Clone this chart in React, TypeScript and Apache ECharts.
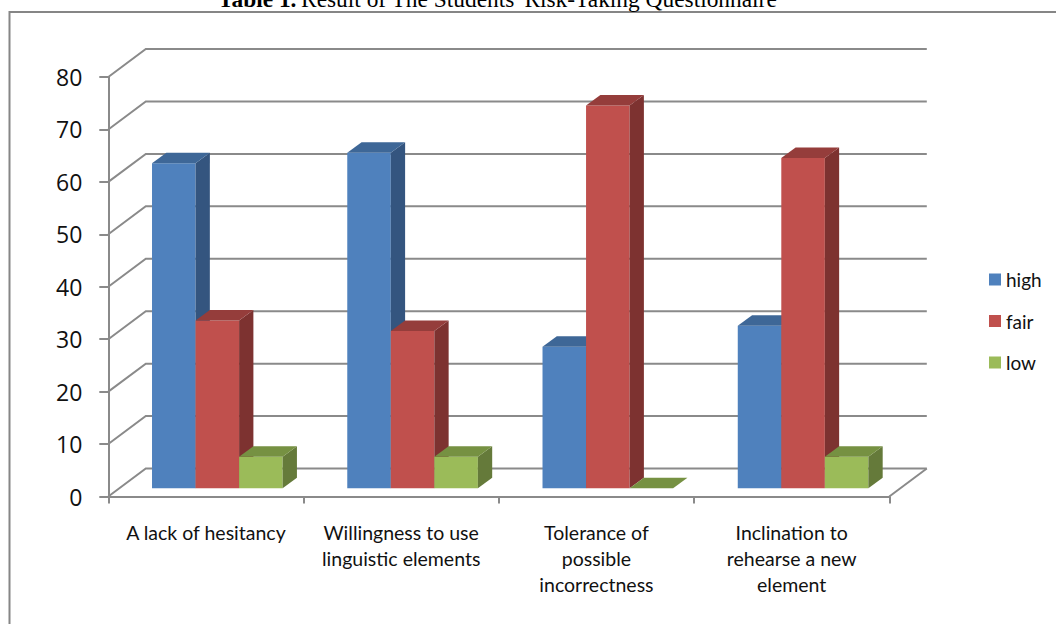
import React, { useEffect, useRef } from "react";
import * as echarts from "echarts";

const categories = [
  "A lack of hesitancy",
  "Willingness to use\nlinguistic elements",
  "Tolerance of\npossible\nincorrectness",
  "Inclination to\nrehearse a new\nelement",
];
const highValues = [62, 64, 27, 31];
const fairValues = [32, 30, 73, 63];
const lowValues = [6, 6, 0, 6];
const gridTicks = [0, 10, 20, 30, 40, 50, 60, 70, 80];

const WALL_DX = 37.5;
const WALL_DY = 28;
const BAR_DX = 14.3;
const BAR_DY = 10.5;
const FRONT_DX = 11.4;
const FRONT_DY = 8.2;
const BAR_FRACTION = 0.223;
const GRID_COLOR = "#8a8a8a";

function gridRender(params: any, api: any) {
  const value = api.value(1);
  const p = api.coord([0, value]);
  const cs = params.coordSys;
  const x0 = cs.x;
  const x1 = cs.x + cs.width;
  const y = p[1];
  const style = { stroke: GRID_COLOR, lineWidth: 2, fill: "none" };
  const children: any[] = [
    {
      type: "polyline",
      shape: { points: [[x0, y], [x0 + WALL_DX, y - WALL_DY], [x1 + WALL_DX, y - WALL_DY]] },
      style,
    },
  ];
  if (value === 0) {
    children.push({
      type: "line",
      shape: { x1, y1: y, x2: x1 + WALL_DX, y2: y - WALL_DY },
      style,
    });
  }
  return { type: "group", children };
}

function barRenderer(seriesIndex: number, front: string, top: string, side: string) {
  return (_params: any, api: any) => {
    const cat = api.value(0);
    const val = api.value(1);
    const band = api.size([1, 0])[0];
    const w = band * BAR_FRACTION;
    const base = api.coord([cat, 0]);
    const topPt = api.coord([cat, val]);
    const x0 = base[0] + FRONT_DX - 1.5 * w + seriesIndex * w;
    const x1 = x0 + w;
    const yb = base[1] - FRONT_DY;
    const yt = topPt[1] - FRONT_DY;
    const children: any[] = [];
    if (val > 0) {
      children.push({
        type: "polygon",
        shape: { points: [[x0, yb], [x1, yb], [x1, yt], [x0, yt]] },
        style: { fill: front },
      });
      children.push({
        type: "polygon",
        shape: { points: [[x1, yb], [x1 + BAR_DX, yb - BAR_DY], [x1 + BAR_DX, yt - BAR_DY], [x1, yt]] },
        style: { fill: side },
      });
    }
    children.push({
      type: "polygon",
      shape: { points: [[x0, yt], [x1, yt], [x1 + BAR_DX, yt - BAR_DY], [x0 + BAR_DX, yt - BAR_DY]] },
      style: { fill: top },
    });
    return { type: "group", children };
  };
}

function toData(values: number[]) {
  return values.map((v, i) => [i, v]);
}

export default function App() {
  const ref = useRef<HTMLDivElement>(null);
  useEffect(() => {
    const chart = echarts.init(ref.current!, undefined, { renderer: "svg" });
    const barSeries = (name: string, values: number[], idx: number, front: string, top: string, side: string) => ({
      type: "custom",
      name,
      data: toData(values),
      encode: { x: 0, y: 1 },
      itemStyle: { color: front },
      renderItem: barRenderer(idx, front, top, side),
      z: 3,
    });
    chart.setOption({
      animation: false,
      backgroundColor: "#ffffff",
      textStyle: { fontFamily: "Lato" },
      title: {
        left: 218,
        top: -13,
        padding: 0,
        text: "{b|Table 1.} {n|Result of The Students' Risk-Taking Questionnaire}",
        textStyle: {
          fontWeight: "normal",
          rich: {
            b: { fontFamily: "Liberation Serif", fontSize: 23.4, fontWeight: "bold", color: "#000" },
            n: { fontFamily: "Liberation Serif", fontSize: 23.4, fontWeight: "normal", color: "#000" },
          },
        },
      },
      legend: {
        orient: "vertical",
        left: 989,
        top: 270,
        padding: 0,
        itemWidth: 12,
        itemHeight: 12,
        itemGap: 22.5,
        itemStyle: { borderWidth: 0 },
        icon: "rect",
        data: ["high", "fair", "low"],
        textStyle: { fontFamily: "Lato", fontSize: 19, color: "#111", padding: [0, 0, 0, 0] },
      },
      grid: { left: 108.3, top: 77, width: 781, height: 419.5, containLabel: false },
      xAxis: {
        type: "category",
        data: categories,
        axisLine: { show: true, lineStyle: { color: GRID_COLOR, width: 2 } },
        axisTick: { show: true, alignWithLabel: false, length: 7, lineStyle: { color: GRID_COLOR, width: 2 } },
        axisLabel: { interval: 0, fontFamily: "Lato", fontSize: 19.5, color: "#111", lineHeight: 26, margin: 23 },
      },
      yAxis: {
        type: "value",
        min: 0,
        max: 80,
        interval: 10,
        splitLine: { show: false },
        axisLine: { show: true, lineStyle: { color: GRID_COLOR, width: 2 } },
        axisTick: { show: true, length: 9, lineStyle: { color: GRID_COLOR, width: 2 } },
        axisLabel: { fontFamily: "Open Sans", fontSize: 23, color: "#111", margin: 26 },
      },
      graphic: [
        {
          type: "polyline",
          shape: { points: [[9.5, 624], [9.5, 12], [1056, 12]] },
          style: { stroke: "#868686", lineWidth: 2, fill: "none" },
          silent: true,
        },
      ],
      series: [
        {
          type: "custom",
          name: "grid",
          data: gridTicks.map((v) => [0, v]),
          encode: { x: 0, y: 1 },
          renderItem: gridRender,
          z: 1,
          silent: true,
        },
        barSeries("high", highValues, 0, "#4F81BD", "#3E6797", "#34557F"),
        barSeries("fair", fairValues, 1, "#C0504D", "#953D3B", "#7D3230"),
        barSeries("low", lowValues, 2, "#9BBB59", "#769142", "#657A3A"),
      ],
    });
    return () => chart.dispose();
  }, []);
  return <div ref={ref} style={{ position: "absolute", left: 0, top: 0, width: 1056, height: 624 }} />;
}
